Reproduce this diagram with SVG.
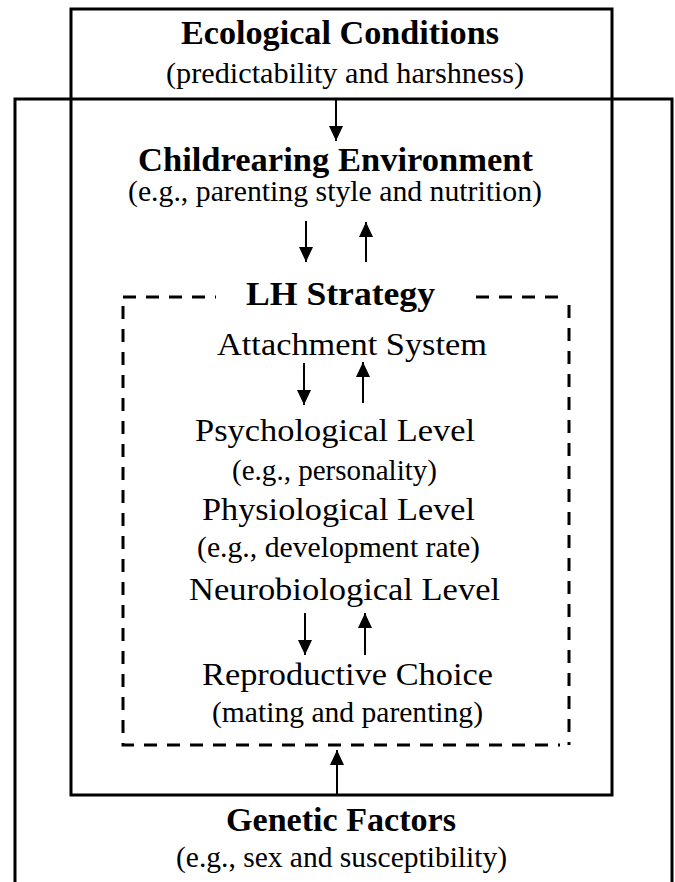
<svg xmlns="http://www.w3.org/2000/svg" width="675" height="882" viewBox="0 0 675 882">
<style>
.box{fill:none;stroke:#000;stroke-width:3}
.dash{fill:none;stroke:#000;stroke-width:3;stroke-dasharray:13 10}
.t{font-family:"Liberation Serif","Times New Roman",serif;fill:#000}
.b{font-weight:bold;font-size:34px}
.m{font-size:32.5px}
.s{font-size:29.5px}
.c{stroke:#000;stroke-width:2;fill:none;marker-end:url(#ah)}
</style>
<defs>
<marker id="ah" markerUnits="userSpaceOnUse" markerWidth="15" markerHeight="14" refX="15" refY="7" orient="auto">
<path d="M0,0 L15,7 L0,14 z" fill="#000"/>
</marker>
</defs>
<rect width="675" height="882" fill="#fff"/>
<g id="genetic-factors">
<path class="box" d="M15,884 V99 H672 V884"/>
<text class="t b" x="226" y="831" textLength="230" lengthAdjust="spacingAndGlyphs">Genetic Factors</text>
<text class="t s" x="176" y="867" textLength="331" lengthAdjust="spacingAndGlyphs">(e.g., sex and susceptibility)</text>
</g>
<g id="ecological-conditions">
<rect class="box" x="71" y="9" width="541" height="786"/>
<text class="t b" x="181" y="44" textLength="318" lengthAdjust="spacingAndGlyphs">Ecological Conditions</text>
<text class="t s" x="166" y="83" textLength="358" lengthAdjust="spacingAndGlyphs">(predictability and harshness)</text>
</g>
<g id="childrearing-environment">
<text class="t b" x="138" y="171" textLength="395" lengthAdjust="spacingAndGlyphs">Childrearing Environment</text>
<text class="t s" x="128" y="201" textLength="414" lengthAdjust="spacingAndGlyphs">(e.g., parenting style and nutrition)</text>
</g>
<g id="lh-strategy">
<path class="dash" d="M123,297 H216"/>
<path class="dash" d="M476,297 H568"/>
<path class="dash" d="M123,306 V745 H560"/>
<path class="dash" d="M569,305 V745"/>
<text class="t b" x="246" y="305" textLength="189" lengthAdjust="spacingAndGlyphs">LH  Strategy</text>
</g>
<g id="attachment-system">
<text class="t m" x="217" y="355" textLength="270" lengthAdjust="spacingAndGlyphs">Attachment System</text>
</g>
<g id="psychological-level">
<text class="t m" x="195" y="441" textLength="280" lengthAdjust="spacingAndGlyphs">Psychological Level</text>
<text class="t s" x="232" y="480" textLength="205" lengthAdjust="spacingAndGlyphs">(e.g., personality)</text>
</g>
<g id="physiological-level">
<text class="t m" x="202" y="520" textLength="273" lengthAdjust="spacingAndGlyphs">Physiological Level</text>
<text class="t s" x="197" y="557" textLength="283" lengthAdjust="spacingAndGlyphs">(e.g., development rate)</text>
</g>
<g id="neurobiological-level">
<text class="t m" x="189" y="600" textLength="311" lengthAdjust="spacingAndGlyphs">Neurobiological Level</text>
</g>
<g id="reproductive-choice">
<text class="t m" x="202" y="685" textLength="291" lengthAdjust="spacingAndGlyphs">Reproductive Choice</text>
<text class="t s" x="212" y="722" textLength="271" lengthAdjust="spacingAndGlyphs">(mating and parenting)</text>
</g>
<g id="connectors">
<line class="c" x1="336" y1="100" x2="336" y2="141"/>
<line class="c" x1="306" y1="221" x2="306" y2="262"/>
<line class="c" x1="366" y1="262" x2="366" y2="222"/>
<line class="c" x1="304" y1="363" x2="304" y2="405"/>
<line class="c" x1="363" y1="403" x2="363" y2="362"/>
<line class="c" x1="305" y1="613" x2="305" y2="655"/>
<line class="c" x1="365" y1="655" x2="365" y2="613"/>
<line class="c" x1="337" y1="794" x2="337" y2="750"/>
</g>
</svg>
